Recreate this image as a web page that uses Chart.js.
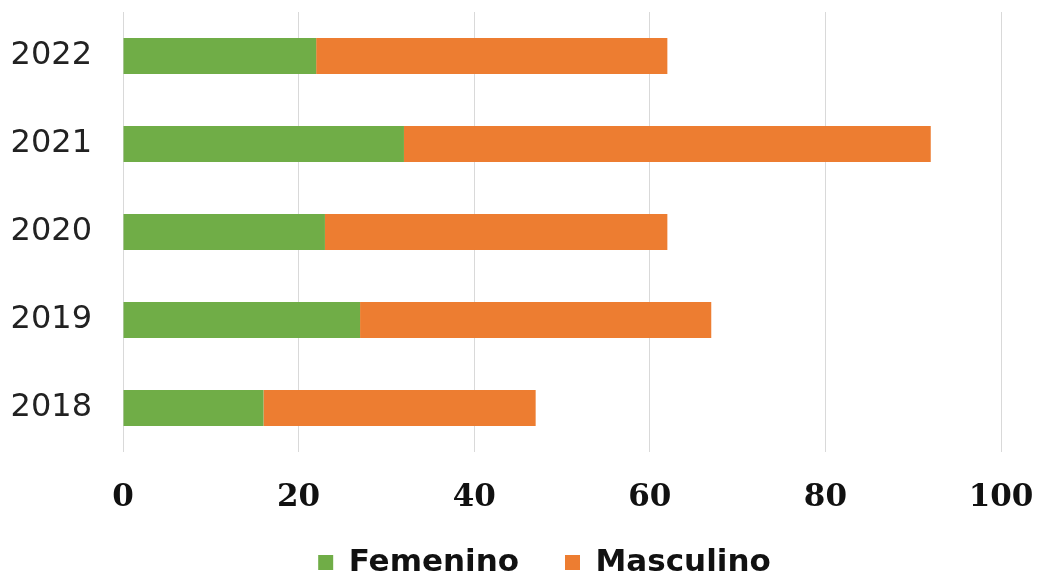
<!DOCTYPE html>
<html>
<head>
<meta charset="utf-8">
<script src="https://cdn.jsdelivr.net/npm/chart.js@4"></script>
<style>
  html, body { margin: 0; padding: 0; background: #fff; }
  #wrap { width: 1044px; height: 582px; }
</style>
</head>
<body>
<div id="wrap"><canvas id="myChart"></canvas></div>
<script>
const years = ['2022', '2021', '2020', '2019', '2018'];
const femenino = [22, 32, 23, 27, 16];
const masculino = [40, 60, 39, 40, 31];
const xTicks = [0, 20, 40, 60, 80, 100];

const data = {
  labels: years,
  datasets: [
    {
      label: 'Femenino',
      data: femenino,
      backgroundColor: '#70ad47',
      barPercentage: 0.41,
      categoryPercentage: 1,
    },
    {
      label: 'Masculino',
      data: masculino,
      backgroundColor: '#ed7d31',
      barPercentage: 0.41,
      categoryPercentage: 1,
    },
  ],
};

// nudge the legend right/down and let the x labels draw past the axis box
const layoutTweak = {
  id: 'layoutTweak',
  afterLayout(chart) {
    const lg = chart.legend;
    if (lg) {
      lg.left += 44; lg.right += 44;
      lg.top += 6; lg.bottom += 6;
    }
    chart.scales.x.bottom += 50;
  },
};

const config = {
  type: 'bar',
  data: data,
  plugins: [layoutTweak],
  options: {
    indexAxis: 'y',
    responsive: true,
    maintainAspectRatio: false,
    animation: false,
    layout: { padding: { top: 12, right: 43, left: 0, bottom: 0 } },
    scales: {
      x: {
        stacked: true,
        min: 0,
        max: 100,
        afterBuildTicks: (axis) => { axis.ticks = xTicks.map(v => ({ value: v })); },
        grid: { color: '#d9d9d9', lineWidth: 1, drawTicks: false },
        border: { display: false },
        ticks: {
          padding: 27,
          color: '#111',
          font: { family: 'DejaVu Serif', size: 31, weight: 'bold' },
        },
        afterFit: (axis) => {
          axis.height = 43;
          axis.paddingLeft = 0;
          axis.paddingRight = 0;
        },
      },
      y: {
        stacked: true,
        grid: { display: false, drawTicks: false },
        border: { display: false },
        ticks: {
          padding: 31,
          color: '#222',
          font: { family: 'DejaVu Sans', size: 32 },
        },
        afterFit: (axis) => {
          axis.width = 123;
          axis.paddingTop = 0;
          axis.paddingBottom = 0;
        },
      },
    },
    plugins: {
      tooltip: { enabled: false },
      legend: {
        position: 'bottom',
        labels: {
          boxWidth: 15,
          boxHeight: 15,
          padding: 46,
          color: '#111',
          font: { family: 'DejaVu Sans', size: 31, weight: 'bold' },
        },
      },
    },
  },
};

const myChart = new Chart(document.getElementById('myChart'), config);
</script>
</body>
</html>
